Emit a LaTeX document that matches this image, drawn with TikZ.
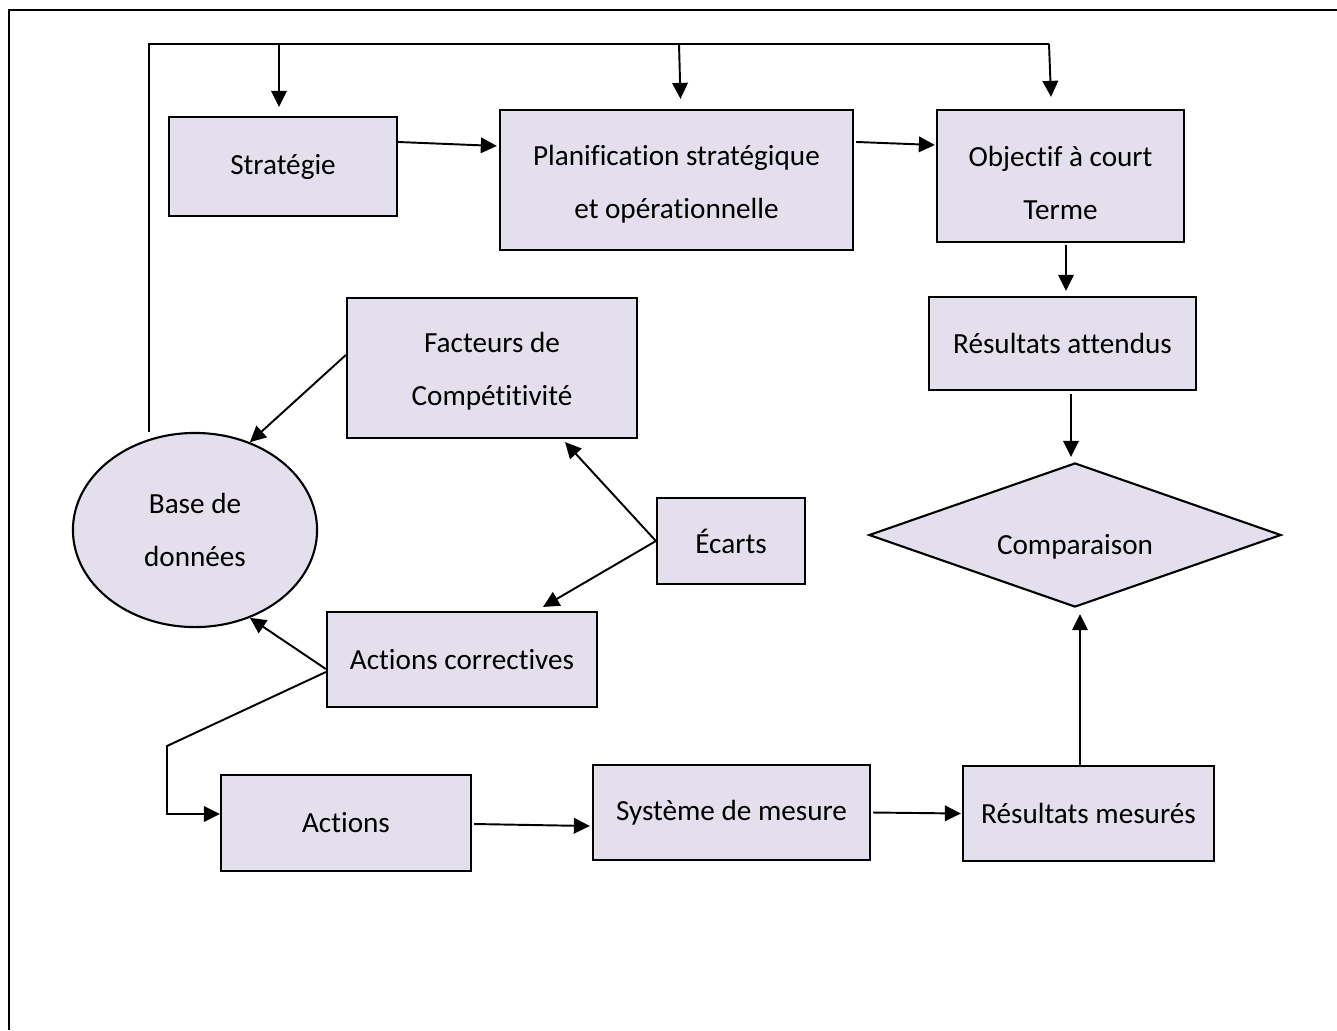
\documentclass[tikz,border=0pt]{standalone}
\usepackage{fontspec}
\setmainfont{Carlito}[Ligatures={NoCommon}]
\usetikzlibrary{arrows.meta,shapes.geometric}
\definecolor{boxfill}{HTML}{E4DFEC}
\tikzset{
  box/.style={draw=black, fill=boxfill, line width=0.6pt, inner sep=0pt, align=center,
    font=\fontsize{8.3pt}{15pt}\selectfont},
  arr/.style={line width=0.55pt, -{Triangle[length=0.16cm, width=0.155cm]}},
  conn/.style={line width=0.55pt},
}
\begin{document}
\begin{tikzpicture}[x=0.01cm, y=-0.01cm]
\useasboundingbox (0,0) rectangle (1337,1030);
\draw[line width=0.7pt] (9,1030) -- (9,10) -- (1337,10);

\node[box, minimum width=2.28cm, minimum height=0.99cm] (strat) at (283,166.5) {Stratégie};
\node[box, minimum width=3.53cm, minimum height=1.40cm, text height=0.83cm, text depth=0.06cm] (plan) at (676.5,180) {Planification stratégique\\et opérationnelle};
\node[box, minimum width=2.47cm, minimum height=1.32cm, text height=0.86cm, text depth=0cm] (obj) at (1060.5,176) {Objectif à court\\Terme};
\node[box, minimum width=2.67cm, minimum height=0.93cm] (ra) at (1062.5,343.5) {Résultats attendus};
\node[box, minimum width=2.90cm, minimum height=1.40cm, text height=0.80cm, text depth=0.06cm] (fac) at (492,368) {Facteurs de\\Compétitivité};
\node[box, ellipse, minimum width=2.44cm, minimum height=1.94cm] (base) at (195,530) {Base de\\données};
\node[box, minimum width=1.48cm, minimum height=0.86cm] (ecarts) at (731,541) {Écarts};
\node[box, diamond, aspect=2.86, minimum width=4.12cm, minimum height=1.44cm, text height=0.45cm, text depth=0.06cm] (comp) at (1075,535) {Comparaison};
\node[box, minimum width=2.70cm, minimum height=0.95cm] (ac) at (462,659.5) {Actions correctives};
\node[box, minimum width=2.50cm, minimum height=0.96cm] (act) at (346,823) {Actions};
\node[box, minimum width=2.77cm, minimum height=0.95cm] (sys) at (731.5,812.5) {Système de mesure};
\node[box, minimum width=2.51cm, minimum height=0.95cm] (rm) at (1088.5,813.5) {Résultats mesurés};

% top feedback line
\coordinate (tl) at (149,44);
\coordinate (tr) at (1049,44);
\draw[conn] ([xshift=-0.46cm]base.north) -- (tl) -- (tr);
\draw[arr] (tl -| 279,0) -- ([xshift=-0.04cm, yshift=0.09cm]strat.north);
\draw[arr] (tl -| 679,0) -- ([xshift=0.04cm, yshift=0.10cm]plan.north);
\draw[arr] (tr) -- ([xshift=-0.095cm, yshift=0.12cm]obj.north);

% main flow
\draw[arr] ([yshift=0.245cm]strat.east) -- ([xshift=-0.02cm, yshift=0.34cm]plan.west);
\draw[arr] ([xshift=0.02cm, yshift=0.38cm]plan.east) -- ([xshift=-0.01cm, yshift=0.31cm]obj.west);
\draw[arr] ([xshift=0.055cm, yshift=-0.02cm]obj.south) -- ([xshift=0.035cm, yshift=0.05cm]ra.north);
\draw[arr] ([xshift=0.085cm, yshift=-0.03cm]ra.south) -- ([xshift=-0.04cm, yshift=0.05cm]comp.north);
\draw[arr] ([xshift=-0.085cm]rm.north) -- ([xshift=0.05cm, yshift=-0.06cm]comp.south);
\draw[arr] ([xshift=0.02cm]sys.east) -- ([xshift=-0.01cm]rm.west);
\draw[arr] ([xshift=0.02cm, yshift=-0.01cm]act.east) -- ([xshift=-0.02cm, yshift=-0.135cm]sys.west);

% feedback to database
\draw[arr] ([yshift=0.13cm]fac.west) -- (base.58);
\draw[arr] ([yshift=-0.095cm]ac.west) -- (base.-58);
\draw[arr] (ecarts.west) -- ([xshift=0.73cm, yshift=-0.03cm]fac.south);
\draw[arr] (ecarts.west) -- ([xshift=0.81cm, yshift=0.04cm]ac.north);

% corrective actions to actions
\coordinate (k1) at (167,746);
\draw[arr] ([yshift=-0.125cm]ac.west) -- (k1) |- ([yshift=0.09cm]act.west);
\end{tikzpicture}
\end{document}
